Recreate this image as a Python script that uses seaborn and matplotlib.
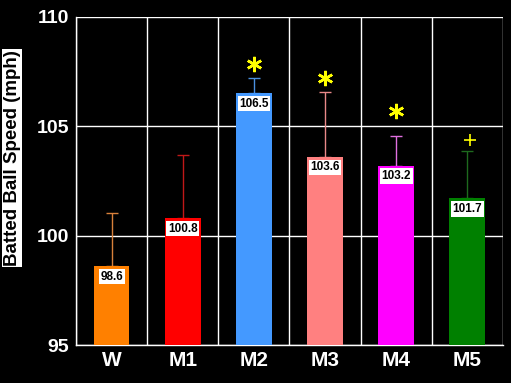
import numpy as np
import pandas as pd
import seaborn as sns
import matplotlib.pyplot as plt

groups = ['W', 'M1', 'M2', 'M3', 'M4', 'M5']
speed = [98.6, 100.8, 106.5, 103.6, 103.2, 101.7]
err_up = [2.45, 2.9, 0.7, 2.95, 1.35, 2.15]
marks = ['', '', '*', '*', '*', '+']
mark_y = [None, None, 107.85, 107.2, 105.7, 104.35]
bar_colors = ['#FF8000', '#FF0000', '#4499FF', '#FF8080', '#FF00FF', '#008000']
err_colors = ['#D8803A', '#C01818', '#4A8FE0', '#E88888', '#E070E0', '#1E6A1E']

df = pd.DataFrame({'group': groups, 'speed': speed})

sns.set_style('dark', {'axes.facecolor': 'black', 'figure.facecolor': 'black'})
plt.rcParams['font.family'] = ['Liberation Sans', 'DejaVu Sans']

fig = plt.figure(figsize=(5.11, 3.83), dpi=100)
ax = fig.add_axes([0.149, 0.099, 0.835, 0.857])
sns.barplot(data=df, x='group', y='speed', hue='group', palette=bar_colors,
            width=0.5, legend=False, ax=ax, saturation=1, zorder=3, linewidth=0)

for i, (v, e) in enumerate(zip(speed, err_up)):
    ax.errorbar(i, v, yerr=[[0], [e]], color=err_colors[i], lw=1,
                capsize=4, capthick=1, zorder=2)
    ax.text(i, v - 0.2, f'{v:.1f}', ha='center', va='top', fontsize=8.5,
            fontweight='bold', color='black', zorder=5,
            bbox=dict(facecolor='white', edgecolor='none', pad=1.2))
    if marks[i] == '*':
        ax.plot(i, mark_y[i], marker=(6, 2, 0), ms=11, mew=1.8, color='#FFFF00', zorder=5)
    elif marks[i] == '+':
        ax.plot(i + 0.04, mark_y[i], marker='+', ms=9, mew=1.2, color='#FFFF00', zorder=5)

ax.set_ylim(95, 110)
ax.set_xlim(-0.5, 5.5)
ax.set_yticks([95, 100, 105, 110])
ax.set_yticks(np.arange(95, 111, 1), minor=True)
ax.set_xticks(np.arange(-0.5, 6, 1))
ax.set_xticks(range(6), minor=True)
ax.set_xticklabels([''] * 7)
ax.set_xticklabels(groups, minor=True)
ax.tick_params(axis='x', which='major', direction='out', length=4, color='white')
ax.tick_params(axis='x', which='minor', length=0, labelsize=15, labelcolor='white', pad=4)
ax.tick_params(axis='y', which='major', direction='out', length=4, color='white',
               labelsize=14, labelcolor='white', pad=1)
ax.tick_params(axis='y', which='minor', direction='out', length=2, color='white')
for lab in ax.get_xticklabels(minor=True) + ax.get_yticklabels():
    lab.set_fontweight('bold')

ax.grid(True, which='major', color='white', lw=1, zorder=0)
ax.set_axisbelow(True)
for s in ['top', 'right']:
    ax.spines[s].set_visible(False)
for s in ['left', 'bottom']:
    ax.spines[s].set_color('white')
    ax.spines[s].set_linewidth(1)

ax.set_xlabel('')
ax.set_ylabel('Batted Ball Speed (mph)', fontsize=13.5, fontweight='bold', color='black',
              bbox=dict(facecolor='white', edgecolor='none', pad=1))
ax.yaxis.set_label_coords(-0.13, 0.57)

fig.savefig('out.png', dpi=100, facecolor='black')
